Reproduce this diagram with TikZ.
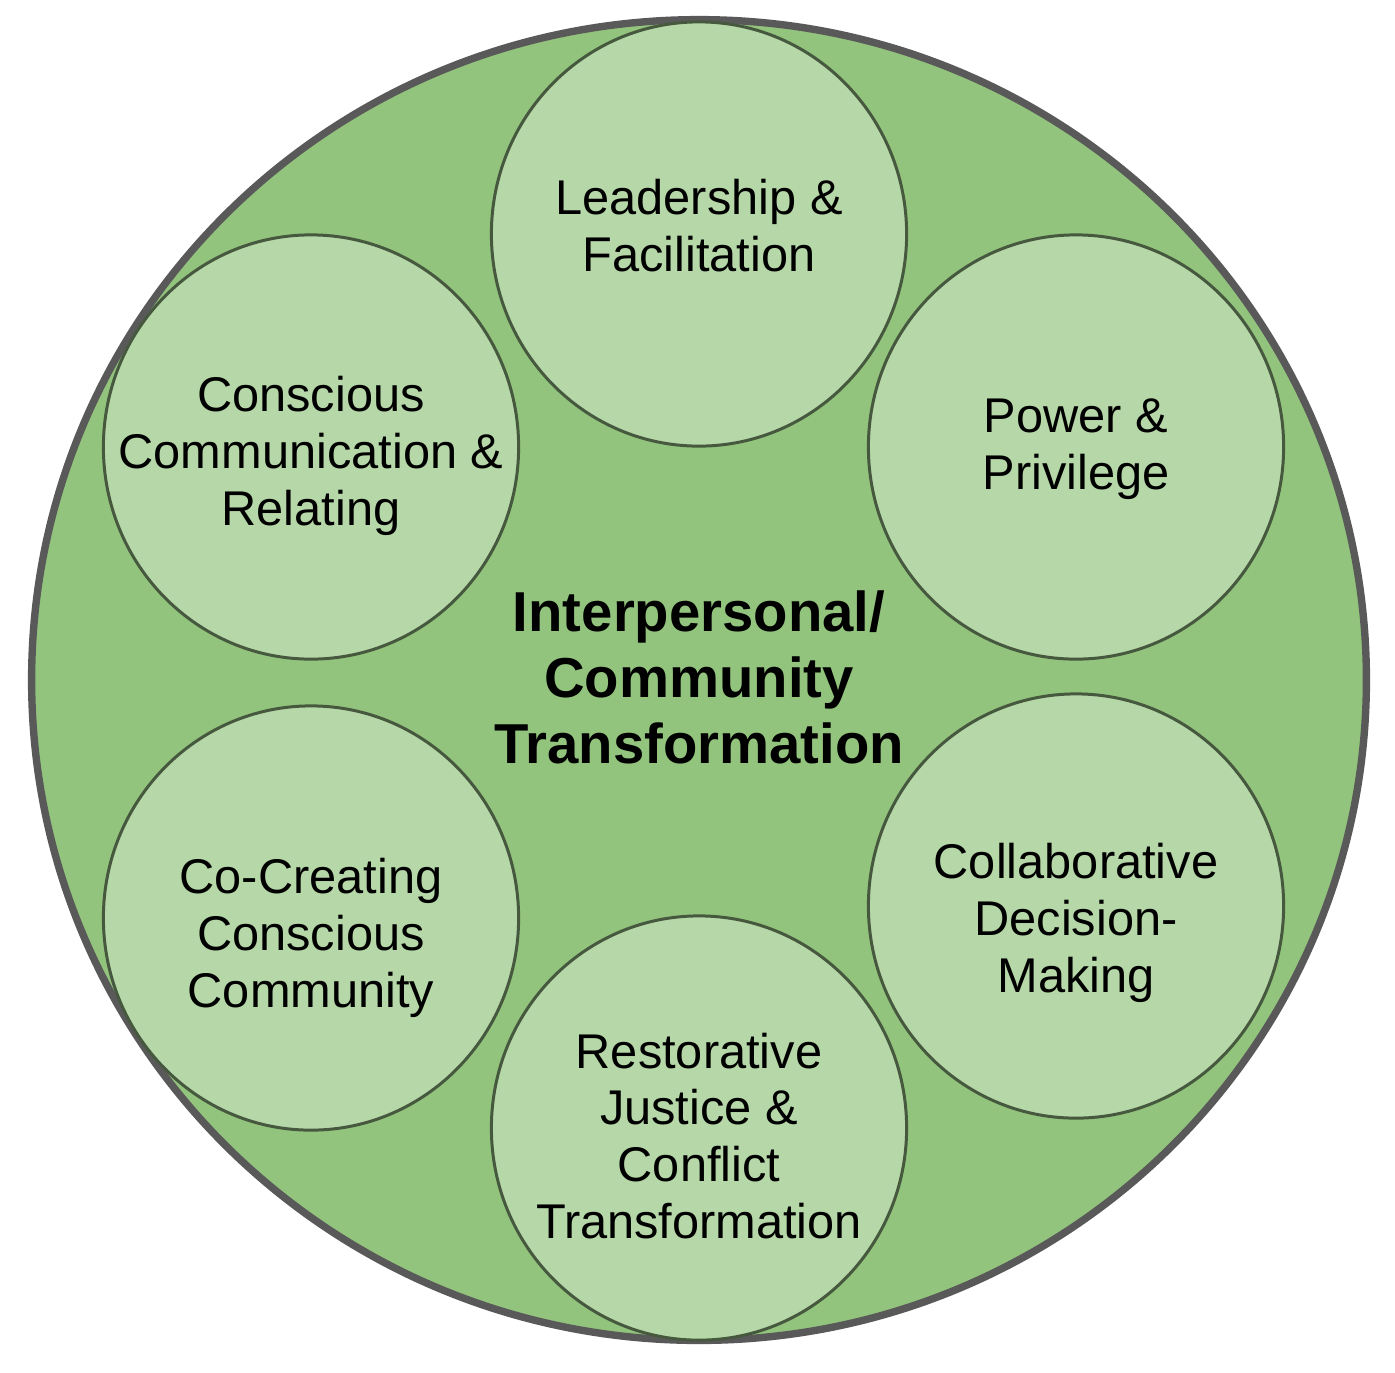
\documentclass[tikz,border=0pt]{standalone}
\usepackage{fontspec}
\setmainfont{Liberation Sans}
\usetikzlibrary{shapes.geometric}
\definecolor{outer_green}{HTML}{93C47D}
\definecolor{inner_green}{HTML}{B6D7A8}
\definecolor{outer_line}{HTML}{595959}
\definecolor{inner_line}{HTML}{46593F}

\begin{document}
\begin{tikzpicture}[x=0.01cm,y=-0.01cm,
    topic/.style={ellipse,draw=inner_line,line width=0.85pt,fill=inner_green,minimum width=4.15cm,minimum height=4.24cm,inner sep=0pt},
    topic_text/.style={align=center,font=\fontsize{13.86}{16.2}\selectfont}]
  \useasboundingbox (0,0) rectangle (1395,1372);
  % outer ring
  \node[ellipse,draw=outer_line,line width=2.1pt,fill=outer_green,minimum width=13.34cm,minimum height=13.2cm,inner sep=0pt] (outer) at (699,680) {};
  % the six topics
  \node[topic] (lead) at (699,234) {};
  \node[topic] (power) at (1076,447) {};
  \node[topic] (collab) at (1076,906) {};
  \node[topic] (restore) at (699,1128) {};
  \node[topic] (cocreate) at (311,918) {};
  \node[topic] (comm) at (311,447) {};
  \node[topic_text] (lead_t) at (699,226) {Leadership \&\\Facilitation};
  \node[topic_text] (power_t) at (1076,449) {Power \&\\Privilege};
  \node[topic_text] (collab_t) at (1076,923) {Collaborative\\Decision-\\Making};
  \node[topic_text] (restore_t) at (699,1136) {Restorative\\Justice \&\\Conflict\\Transformation};
  \node[topic_text] (cocreate_t) at (311,938) {Co-Creating\\Conscious\\Community};
  \node[topic_text] (comm_t) at (311,456) {Conscious\\Communication \&\\Relating};
  % centre title
  \node[align=center,font=\bfseries\fontsize{16}{18.8}\selectfont] (core) at (699,677) {Interpersonal/\\Community\\Transformation};
\end{tikzpicture}
\end{document}
